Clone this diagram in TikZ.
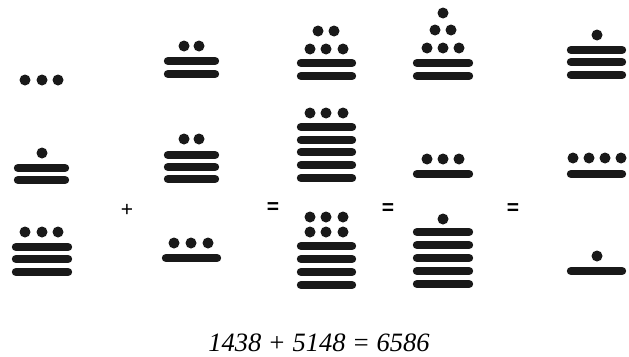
\documentclass[tikz,border=0pt]{standalone}
\usepackage{fontspec}
\setmainfont{Liberation Serif}
\newfontfamily\signfont{Liberation Sans}

\tikzset{
  bar/.style={line width=8.4pt, line cap=round, black!90},
  dotfill/.style={black!90},
  sign/.style={font=\signfont\fontsize{21}{21}\selectfont, inner sep=0pt},
  eqsign/.style={font=\signfont\bfseries\fontsize{21}{21}\selectfont, inner sep=0pt}
}

\begin{document}
\begin{tikzpicture}[x=1pt, y=-1pt]
  \useasboundingbox (0,0) rectangle (629,356);

  % --- Primer sumando (columna 1) ---
  \foreach \x in {25,42,58} \fill[dotfill] (\x,80) circle[radius=5.5pt];
  \fill[dotfill] (42,153) circle[radius=5.5pt];
  \foreach \y in {168,180} \draw[bar] (18,\y) -- (65,\y);
  \foreach \x in {25,42,58} \fill[dotfill] (\x,232) circle[radius=5.5pt];
  \foreach \y in {247,259,272} \draw[bar] (16,\y) -- (68,\y);

  \node[sign] (plus) at (127,210) {+};

  % --- Segundo sumando (columna 2) ---
  \foreach \x in {184,199} \fill[dotfill] (\x,46) circle[radius=5.5pt];
  \foreach \y in {61,74} \draw[bar] (168,\y) -- (215,\y);
  \foreach \x in {184,199} \fill[dotfill] (\x,139) circle[radius=5.5pt];
  \foreach \y in {155,167,179} \draw[bar] (168,\y) -- (215,\y);
  \foreach \x in {174,191,208} \fill[dotfill] (\x,243) circle[radius=5.5pt];
  \draw[bar] (166,258) -- (217,258);

  \node[eqsign] (eqA) at (273,208) {=};

  % --- Suma sin reducir (columna 3) ---
  \foreach \x in {318,334} \fill[dotfill] (\x,31) circle[radius=5.5pt];
  \foreach \x in {310,326,343} \fill[dotfill] (\x,49) circle[radius=5.5pt];
  \foreach \y in {63,76} \draw[bar] (301,\y) -- (352,\y);
  \foreach \x in {310,326,343} \fill[dotfill] (\x,113) circle[radius=5.5pt];
  \foreach \y in {127,140,152,165,178} \draw[bar] (301,\y) -- (352,\y);
  \foreach \x in {310,326,343} {
    \fill[dotfill] (\x,217) circle[radius=5.5pt];
    \fill[dotfill] (\x,232) circle[radius=5.5pt];
  }
  \foreach \y in {246,259,272,285} \draw[bar] (301,\y) -- (352,\y);

  \node[eqsign] (eqB) at (388,209) {=};

  % --- Paso intermedio (columna 4) ---
  \fill[dotfill] (443,13) circle[radius=5.5pt];
  \foreach \x in {435,451} \fill[dotfill] (\x,30) circle[radius=5.5pt];
  \foreach \x in {427,443,459} \fill[dotfill] (\x,48) circle[radius=5.5pt];
  \foreach \y in {63,76} \draw[bar] (417,\y) -- (469,\y);
  \foreach \x in {427,443,459} \fill[dotfill] (\x,159) circle[radius=5.5pt];
  \draw[bar] (417,174) -- (469,174);
  \fill[dotfill] (443,219) circle[radius=5.5pt];
  \foreach \y in {232,245,258,271,284} \draw[bar] (417,\y) -- (469,\y);

  \node[eqsign] (eqC) at (513,209) {=};

  % --- Resultado (columna 5) ---
  \fill[dotfill] (597,35) circle[radius=5.5pt];
  \foreach \y in {50,62,75} \draw[bar] (571,\y) -- (622,\y);
  \foreach \x in {573,589,605,621} \fill[dotfill] (\x,158) circle[radius=5.5pt];
  \draw[bar] (571,174) -- (622,174);
  \fill[dotfill] (597,256) circle[radius=5.5pt];
  \draw[bar] (571,271) -- (622,271);

  % --- Equivalencia decimal ---
  \node[font=\itshape\fontsize{26.5}{26.5}\selectfont, inner sep=0pt] (sum) at (319,343) {1438 + 5148 = 6586};
\end{tikzpicture}
\end{document}
